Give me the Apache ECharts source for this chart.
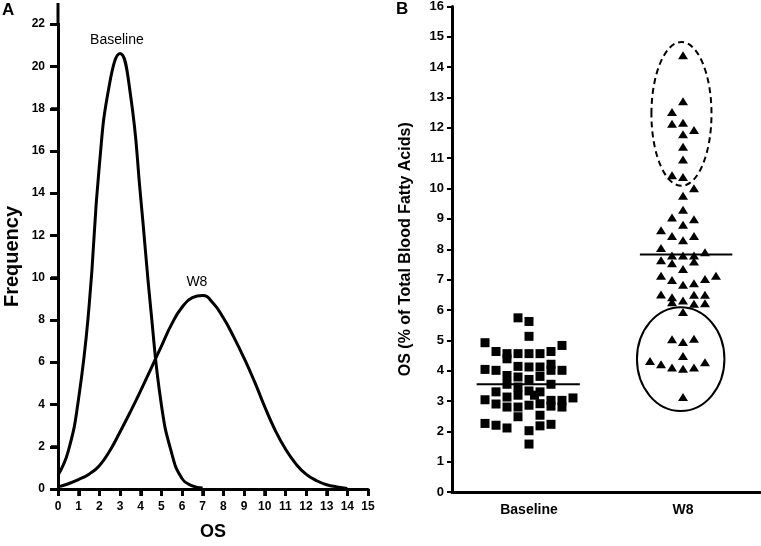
<!DOCTYPE html>
<html>
<head>
<meta charset="utf-8">
<script src="https://cdn.jsdelivr.net/npm/echarts@6/dist/echarts.min.js"></script>
<style>html,body{margin:0;padding:0;background:#fff;}#c{width:761px;height:546px;}</style>
</head>
<body>
<div id="c"></div>
<script>
// ---------- Panel A data ----------
var osBaseline = [0, 0.5, 1, 1.5, 2, 2.5, 3, 3.5, 4, 4.5, 5, 5.5, 6, 6.5, 7];
var freqBaseline = [0.65, 1.8, 4.3, 8.6, 15.3, 19.2, 20.6, 18.7, 13.8, 8.4, 4.0, 1.7, 0.5, 0.15, 0.05];
var osW8 = [0, 0.5, 1, 1.5, 2, 2.5, 3, 3.5, 4, 4.5, 5, 5.5, 6, 6.5, 7, 7.5, 8, 8.5, 9, 9.5, 10, 10.5, 11, 11.5, 12, 12.5, 13, 13.5, 14];
var freqW8 = [0.1, 0.25, 0.45, 0.7, 1.1, 1.8, 2.7, 3.65, 4.65, 5.7, 6.75, 7.8, 8.6, 9.05, 9.15, 8.8, 8.1, 7.2, 6.2, 5.1, 3.9, 2.8, 1.9, 1.2, 0.7, 0.4, 0.2, 0.1, 0.03];
var curveLabels = ['Baseline', 'W8'];
var curveLabelAt = [[2.85, 21.25], [6.72, 9.8]];
var freqTicks = [0, 2, 4, 6, 8, 10, 12, 14, 16, 18, 20, 22];
var osTicks = [0, 1, 2, 3, 4, 5, 6, 7, 8, 9, 10, 11, 12, 13, 14, 15];

// ---------- Panel B data ----------
var groups = ['Baseline', 'W8'];
var baselineOS = [5.74, 5.62, 5.13, 4.92, 4.83, 4.63, 4.56, 4.39, 4.56, 4.56, 4.56, 4.63, 4.04, 4.01, 3.84, 4.14, 4.12, 4.12, 4.21, 4.01, 4.01,
  3.55, 3.79, 3.46, 3.71, 3.81, 3.55, 3.04, 3.30, 2.90, 3.13, 2.80, 3.19, 2.80, 3.33, 2.86, 3.19, 3.30, 2.91, 3.02, 2.83, 3.02, 2.80, 3.10,
  2.26, 2.20, 2.11, 2.48, 2.02, 2.53, 2.18, 2.23, 1.58];
var w8OS = [14.39, 12.88, 12.52, 12.14, 12.17, 11.93, 11.79, 11.38, 10.96, 10.44, 10.38, 10.01, 9.76, 9.30, 9.05, 8.99, 8.81, 8.63, 8.44, 8.44, 8.30,
  8.04, 7.90, 7.64, 7.79, 7.79, 7.79, 7.54, 7.60, 7.35, 7.13, 6.99, 6.83, 6.88, 7.02, 7.13, 6.51, 6.42, 6.31, 6.50, 6.50, 6.25, 6.20, 6.22, 5.93,
  5.03, 4.94, 5.05, 4.48, 4.32, 4.21, 4.10, 4.06, 4.10, 4.28, 3.13];
var baselineMean = 3.55;
var w8Mean = 7.83;
// highlighted W8 clusters (centre and half-extent of OS values)
var highCluster = {os: 12.46, half: 2.37};
var lowCluster = {os: 4.38, half: 1.71};

// ---------- layout (jitter columns, not data) ----------
var baselineCol = [-1, 0, 0, -4, 3, -3, -2, -2, -1, 0, 1, 2, -4, -3, -2, -1, 0, 1, 2, 2, 3,
  -2, -1, -1, 0, 1, 2, -4, -3, -3, -2, -2, -1, -1, 0, 0, 0.5, 1, 1, 2, 2, 3, 3, 4,
  -4, -3, -2, -1, 0, 1, 1, 2, 0];
var w8Col = [0, 0, -1, -1, 0, 1, 0, 0, 0, -1, 0, 1, 0, 0, -1, 1, 0, -2, -1, 1, 0,
  -2, 2, -2, -1, 0, 1, -1, 1, 0, -2, -1, 0, 1, 2, 3, -2, -1, 0, 1, 2, -1, 1, 2, 0,
  -1, 0, 1, 0, -3, -2, -1, 0, 1, 2, 0];
var colStep = 0.0714;

function pairs(xs, ys) { return xs.map(function (x, i) { return [x, ys[i]]; }); }
function jitter(vals, cols, centre) { return vals.map(function (v, i) { return [centre + cols[i] * colStep, v]; }); }

var FONT = 'Liberation Sans, Arial, sans-serif';
function axisLine() { return {show: true, onZero: false, lineStyle: {color: '#000', width: 3}}; }
function ticks(len, w) { return {show: true, inside: false, length: len, lineStyle: {color: '#000', width: w}}; }

var chart = echarts.init(document.getElementById('c'), null, {renderer: 'canvas'});
var option = {
  animation: false,
  backgroundColor: '#fff',
  textStyle: {fontFamily: FONT},
  grid: [
    {left: 58, right: 393, top: 24, bottom: 55},
    {left: 452, right: 1, top: 5, bottom: 54}
  ],
  xAxis: [
    {type: 'value', gridIndex: 0, min: 0, max: 15, interval: 1,
      name: 'OS', nameLocation: 'middle', nameGap: 34,
      nameTextStyle: {fontSize: 18, fontWeight: 'bold', color: '#000', fontFamily: FONT},
      axisLine: axisLine(), splitLine: {show: false},
      axisTick: ticks(7, 2.5),
      axisLabel: {fontSize: 12, fontWeight: 'bold', color: '#000', margin: 12}},
    {type: 'category', gridIndex: 1, data: groups,
      axisLine: axisLine(), axisTick: {show: false},
      axisLabel: {fontSize: 14, fontWeight: 'bold', color: '#000', margin: 11}},
    {type: 'value', gridIndex: 1, min: 0, max: 2, show: false}
  ],
  yAxis: [
    {type: 'value', gridIndex: 0, min: 0, max: 22, interval: 2,
      name: 'Frequency', nameLocation: 'middle', nameGap: 36, nameRotate: 90,
      nameTextStyle: {fontSize: 20, fontWeight: 'bold', color: '#000', fontFamily: FONT},
      axisLine: axisLine(), splitLine: {show: false},
      axisTick: ticks(7, 2.5),
      axisLabel: {fontSize: 12, fontWeight: 'bold', color: '#000', margin: 13}},
    {type: 'value', gridIndex: 1, min: 0, max: 16, interval: 1,
      name: 'OS (% of Total Blood Fatty Acids)', nameLocation: 'middle', nameGap: 38, nameRotate: 90,
      nameTextStyle: {fontSize: 16, fontWeight: 'bold', color: '#000', fontFamily: FONT},
      axisLine: axisLine(), splitLine: {show: false},
      axisTick: ticks(5, 2),
      axisLabel: {fontSize: 13, fontWeight: 'bold', color: '#000', margin: 8}}
  ],
  series: [
    {type: 'line', xAxisIndex: 0, yAxisIndex: 0, data: pairs(osBaseline, freqBaseline),
      smooth: 0.5, symbol: 'none', lineStyle: {color: '#000', width: 3}},
    {type: 'line', xAxisIndex: 0, yAxisIndex: 0, data: pairs(osW8, freqW8),
      smooth: 0.5, symbol: 'none', lineStyle: {color: '#000', width: 3}},
    {type: 'scatter', xAxisIndex: 2, yAxisIndex: 1, data: jitter(baselineOS, baselineCol, 0.5),
      symbol: 'rect', symbolSize: 9, itemStyle: {color: '#000', opacity: 1}},
    {type: 'scatter', xAxisIndex: 2, yAxisIndex: 1, data: jitter(w8OS, w8Col, 1.5),
      symbol: 'triangle', symbolSize: [10, 8], itemStyle: {color: '#000', opacity: 1}},
    {type: 'line', xAxisIndex: 2, yAxisIndex: 1, data: [[0.16, baselineMean], [0.83, baselineMean]],
      symbol: 'none', lineStyle: {color: '#000', width: 2}},
    {type: 'line', xAxisIndex: 2, yAxisIndex: 1, data: [[1.22, w8Mean], [1.82, w8Mean]],
      symbol: 'none', lineStyle: {color: '#000', width: 2}}
  ]
};
chart.setOption(option);

function ellipseFor(cluster, cx, halfW, dashed) {
  var c = chart.convertToPixel({xAxisIndex: 2, yAxisIndex: 1}, [cx, cluster.os]);
  var t = chart.convertToPixel({xAxisIndex: 2, yAxisIndex: 1}, [cx + halfW, cluster.os + cluster.half]);
  return {type: 'ellipse', silent: true, z: 10,
    shape: {cx: c[0], cy: c[1], rx: Math.abs(t[0] - c[0]), ry: Math.abs(c[1] - t[1])},
    style: {fill: null, stroke: '#000', lineWidth: 2, lineDash: dashed ? [6, 4] : null}};
}
var graphics = [
  ellipseFor(highCluster, 1.49, 0.195, true),
  ellipseFor(lowCluster, 1.485, 0.284, false),
  {type: 'text', left: 2, top: 2, style: {text: 'A', fontSize: 17, fontWeight: 'bold', fill: '#000', fontFamily: FONT}},
  {type: 'text', left: 396, top: 1, style: {text: 'B', fontSize: 17, fontWeight: 'bold', fill: '#000', fontFamily: FONT}}
];
var A = {xAxisIndex: 0, yAxisIndex: 0};
// y-axis line of panel A continues a little above the last tick
var top0 = chart.convertToPixel(A, [0, 22]);
graphics.push({type: 'line', silent: true, shape: {x1: top0[0], y1: top0[1], x2: top0[0], y2: 3}, style: {stroke: '#000', lineWidth: 3}});
// panel A tick marks, placed through the axis scales (drawn on a top layer)
freqTicks.forEach(function (v) {
  var p = chart.convertToPixel(A, [0, v]);
  graphics.push({type: 'rect', silent: true, z: 100, zlevel: 1,
    shape: {x: Math.round(p[0]) - 8, y: Math.round(p[1]) - 1, width: 8, height: 3}, style: {fill: '#000000'}});
});
osTicks.forEach(function (v) {
  var p = chart.convertToPixel(A, [v, 0]);
  graphics.push({type: 'rect', silent: true, z: 100, zlevel: 1,
    shape: {x: Math.round(p[0]) - 1, y: Math.round(p[1]), width: 3, height: 7}, style: {fill: '#000000'}});
});
curveLabels.forEach(function (t, i) {
  var p = chart.convertToPixel(A, curveLabelAt[i]);
  graphics.push({type: 'text', x: p[0], y: p[1], silent: true,
    style: {text: t, fontSize: 14, fill: '#000', fontFamily: FONT, align: 'center', verticalAlign: 'middle'}});
});
chart.setOption({graphic: graphics});
</script>
</body>
</html>
